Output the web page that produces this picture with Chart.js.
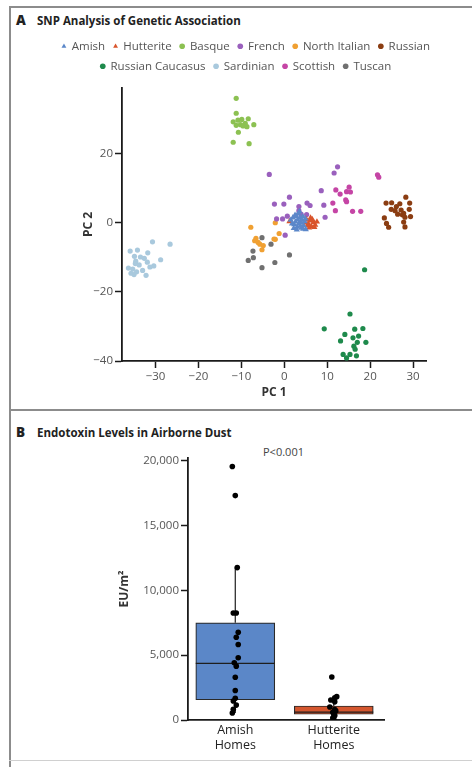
<!DOCTYPE html>
<html>
<head>
<meta charset="utf-8">
<script src="https://cdn.jsdelivr.net/npm/chart.js@4"></script>
<style>
  body { margin: 0; width: 472px; height: 767px; position: relative; overflow: hidden; background: #fff;
         font-family: 'Open Sans', sans-serif; color: #222; }
  .line { position: absolute; background: #8c8c8c; }
  .head { position: absolute; font-weight: bold; font-size: 11.5px; white-space: nowrap; }
  .head b { font-size: 13.5px; display: inline-block; width: 21px; }
  canvas { position: absolute; }
  .note { position: absolute; font-size: 11px; color: #444; }
</style>
</head>
<body>
<div class="line" style="left:9px;top:6px;width:2px;height:761px"></div>
<div class="line" style="left:9px;top:6px;width:463px;height:1.5px"></div>
<div class="line" style="left:9px;top:409px;width:463px;height:1.5px"></div>
<div class="line" style="left:9px;top:760px;width:463px;height:1px;background:#d0d0d0"></div>

<div class="head" style="left:16px;top:11px"><b>A</b>SNP Analysis of Genetic Association</div>
<div class="head" style="left:16px;top:423px"><b>B</b>Endotoxin Levels in Airborne Dust</div>
<div class="note" style="left:263px;top:444px">P&lt;0.001</div>

<canvas id="pca" width="452" height="373" style="left:20px;top:32px"></canvas>
<canvas id="dust" width="452" height="320" style="left:20px;top:440px"></canvas>

<script>
// Панель A: PC 1 / PC 2 для кожної популяції
const populations = ['Amish', 'Hutterite', 'Basque', 'French', 'North Italian', 'Russian',
                     'Russian Caucasus', 'Sardinian', 'Scottish', 'Tuscan'];
const popColors = ['#5b87c9', '#d9552c', '#8cc152', '#9a60bd', '#f0a032', '#8b3d12',
                   '#1e8a4c', '#a9c9dd', '#c545a5', '#707070'];
const popShapes = ['triangle', 'triangle', 'circle', 'circle', 'circle', 'circle',
                   'circle', 'circle', 'circle', 'circle'];

const amishPC = [[1.5,0.8],[2.0,1.5],[2.3,-0.5],[2.6,0.3],[2.8,1.9],[3.0,-1.2],[3.1,0.9],[3.3,2.6],
  [3.4,-0.2],[3.6,1.4],[3.8,0.2],[4.0,-1.5],[4.1,0.8],[4.3,1.8],[4.5,-0.8],[4.7,0.4],[5.0,-1.9],
  [2.2,-1.6],[1.8,-0.3],[3.5,3.3],[2.9,-2.0],[4.9,1.2],[3.7,-0.9],[2.5,2.2],[4.4,-1.8]];
const hutteritePC = [[1.2,0.4],[5.2,0.9],[5.6,-0.3],[6.0,0.6],[6.3,-1.0],[6.8,0.2],[7.2,-0.6],
  [5.8,-1.4],[6.5,1.0],[7.6,0.3],[4.8,0.0],[5.4,-0.8],[7.0,-1.3],[6.1,1.4]];
const basquePC = [[-11.2,36.0],[-11.2,31.7],[-11.9,29.2],[-10.8,29.7],[-9.9,29.9],[-8.4,30.1],
  [-9.1,28.8],[-10.2,28.4],[-11.2,28.2],[-7.1,28.4],[-9.6,28.0],[-8.7,27.8],[-10.7,26.2],
  [-11.9,23.3],[-8.2,22.9]];
const frenchPC = [[-3.5,14.0],[-2.3,5.4],[-0.1,5.4],[1.2,7.4],[3.4,4.7],[3.4,3.5],[5.3,5.7],
  [6.0,5.0],[-1.8,1.1],[-0.4,1.1],[0.7,1.9],[5.2,2.4],[0.2,-3.6],[8.6,9.3],[9.2,5.1],[9.5,1.6],
  [11.6,14.4],[12.4,16.2],[3.9,2.5]];
const northItalianPC = [[-7.8,-1.3],[-6.6,-4.5],[-6.9,-5.2],[-6.1,-5.7],[-5.7,-6.2],[-4.9,-6.6],
  [-5.2,-7.8],[-2.1,0.0],[-1.2,-3.1],[-2.4,-4.7],[-2.1,-4.8]];
const russianPC = [[23.7,5.7],[25.0,5.8],[28.3,7.4],[29.2,5.7],[26.1,4.7],[26.9,5.5],[24.9,3.9],
  [25.8,3.5],[27.2,3.7],[29.1,3.9],[26.4,2.5],[27.5,2.3],[28.1,1.6],[29.4,1.8],[23.3,1.4],
  [23.8,-0.2],[24.3,-1.3],[27.8,0.2],[28.1,-1.2],[27.8,2.7]];
const caucasusPC = [[15.3,-26.4],[9.3,-30.7],[16.4,-30.8],[18.3,-30.6],[14.1,-32.3],[16.0,-33.3],
  [17.3,-32.8],[13.1,-34.2],[17.0,-34.6],[19.0,-34.6],[16.2,-35.7],[16.5,-36.6],[13.7,-38.1],
  [14.5,-39.1],[15.3,-38.1],[16.8,-38.5],[18.7,-13.6]];
const sardinianPC = [[-30.7,-5.5],[-26.6,-6.2],[-35.9,-8.2],[-34.2,-7.9],[-31.8,-8.7],[-34.9,-9.7],
  [-33.5,-9.9],[-32.6,-10.3],[-28.8,-10.7],[-34.6,-11.1],[-31.9,-11.4],[-34.7,-11.8],[-33.8,-12.2],
  [-30.4,-12.5],[-31.3,-12.8],[-36.3,-13.1],[-35.3,-13.4],[-33.0,-13.8],[-34.4,-14.2],[-35.7,-14.6],
  [-32.2,-15.2],[-35.0,-15.0]];
const scottishPC = [[21.7,13.9],[22.0,13.2],[12.0,9.5],[13.0,8.3],[14.5,9.0],[15.1,10.3],[15.4,8.9],
  [14.3,6.6],[14.5,6.1],[11.3,5.7],[11.9,3.5],[15.9,3.3],[17.8,3.3]];
const tuscanPC = [[-5.2,-4.3],[-7.3,-8.2],[-7.2,-10.1],[-8.4,-10.9],[-5.2,-13.0],[-3.1,-6.2],
  [-2.2,-11.5],[1.2,-9.3]];

const popData = [amishPC, hutteritePC, basquePC, frenchPC, northItalianPC, russianPC,
                 caucasusPC, sardinianPC, scottishPC, tuscanPC];
const pcXTicks = [-30, -20, -10, 0, 10, 20, 30];
const pcYTicks = [-40, -20, 0, 20];

// Панель B: ендотоксин
const homeLabels = [['Amish', 'Homes'], ['Hutterite', 'Homes']];
const homePos = [1, 2];
const boxQ1 = [1560, 440];
const boxQ3 = [7490, 1080];
const boxMedian = [4360, 600];
const whiskerLow = [540, 60];
const whiskerHigh = [11750, 1800];
const boxColors = ['#5b87c8', '#d4562e'];
const amishDust = [19540, 17300, 11750, 8250, 8250, 6770, 6380, 5820, 4800, 4410, 4150, 3300,
                   2280, 1670, 1460, 1150, 820, 540];
const amishJitter = [-0.03, 0, 0.02, -0.02, 0.01, 0.03, 0.01, 0.03, 0.03, -0.01, 0.01, 0, 0, 0,
                     -0.02, 0.01, -0.02, -0.03];
const hutteriteDust = [3310, 1800, 1720, 1540, 1400, 1000, 800, 700, 600, 480, 350, 250, 150, 60];
const hutteriteJitter = [-0.02, 0.03, 0.01, -0.03, 0.01, -0.04, 0.01, 0.02, -0.01, 0, 0.01, 0, -0.01, 0];
const dustTicks = [0, 5000, 10000, 15000, 20000];

Chart.defaults.font.family = "'Open Sans', sans-serif";
Chart.defaults.animation = false;

const minus = v => (v < 0 ? '\u2212' + Math.abs(v) : String(v));

// відступ між легендою та графіком
const legendGap = {
  id: 'legendGap',
  beforeInit(chart) {
    const fit = chart.legend.fit;
    chart.legend.fit = function () { fit.call(this); this.height += 6; };
  }
};

const axisBorder = { color: '#1a1a1a', width: 1.8 };
const axisGrid = { drawOnChartArea: false, tickLength: 7, color: '#1a1a1a', tickWidth: 1.5 };
const tickFont = { size: 11.5 };
const axisTitleFont = { size: 12, weight: 'bold' };

new Chart(document.getElementById('pca'), {
  type: 'scatter',
  data: {
    datasets: populations.map((name, i) => ({
      label: name,
      data: popData[i].map(p => ({ x: p[0], y: p[1] })),
      backgroundColor: popColors[i],
      borderColor: popColors[i],
      borderWidth: 0,
      pointStyle: popShapes[i],
      pointRadius: popShapes[i] === 'triangle' ? 3.6 : 2.6
    }))
  },
  options: {
    responsive: false,
    plugins: {
      legend: {
        position: 'top',
        labels: { usePointStyle: true, boxWidth: 4, boxHeight: 4, padding: 8.5,
                  color: '#555', font: { size: 11.5 } }
      },
      tooltip: { enabled: false }
    },
    scales: {
      x: {
        type: 'linear', min: -37.8, max: 33,
        afterBuildTicks: s => { s.ticks = pcXTicks.map(v => ({ value: v })); },
        afterFit: s => { s.height = 44; },
        border: axisBorder,
        grid: axisGrid,
        ticks: { color: '#555', font: tickFont, padding: 2, callback: minus },
        title: { display: true, text: 'PC 1', color: '#333', font: axisTitleFont,
                 padding: { top: 0, bottom: 5 } }
      },
      y: {
        min: -40, max: 39,
        afterBuildTicks: s => { s.ticks = pcYTicks.map(v => ({ value: v })); },
        afterFit: s => { s.width = 102; },
        border: axisBorder,
        grid: axisGrid,
        ticks: { color: '#555', font: tickFont, padding: 2, callback: minus },
        title: { display: true, text: 'PC 2', color: '#333', font: axisTitleFont,
                 padding: { top: 61, bottom: 0 } }
      },
      yRight: {
        position: 'right',
        afterFit: s => { s.width = 46; },
        border: { display: false },
        grid: { display: false, drawTicks: false },
        ticks: { display: false }
      }
    }
  },
  plugins: [legendGap]
});

// медіана та вуса поверх прямокутників, під точками
const boxExtras = {
  id: 'boxExtras',
  afterDatasetDraw(chart, args) {
    if (args.meta.type !== 'bar') return;
    const { ctx, scales: { y } } = chart;
    ctx.save();
    ctx.strokeStyle = '#1e1e1e';
    ctx.lineWidth = 1.2;
    args.meta.data.forEach((bar, i) => {
      const l = bar.x - bar.width / 2, r = bar.x + bar.width / 2;
      const ym = y.getPixelForValue(boxMedian[i]);
      ctx.beginPath();
      ctx.moveTo(l, ym); ctx.lineTo(r, ym);
      ctx.moveTo(bar.x, y.getPixelForValue(boxQ3[i])); ctx.lineTo(bar.x, y.getPixelForValue(whiskerHigh[i]));
      ctx.moveTo(bar.x, y.getPixelForValue(boxQ1[i])); ctx.lineTo(bar.x, y.getPixelForValue(whiskerLow[i]));
      ctx.stroke();
    });
    ctx.restore();
  }
};

new Chart(document.getElementById('dust'), {
  type: 'scatter',
  data: {
    datasets: [
      {
        label: 'Amish Homes',
        data: amishDust.map((v, i) => ({ x: homePos[0] + amishJitter[i], y: v })),
        backgroundColor: '#000', borderWidth: 0, pointRadius: 2.8
      },
      {
        label: 'Hutterite Homes',
        data: hutteriteDust.map((v, i) => ({ x: homePos[1] + hutteriteJitter[i], y: v })),
        backgroundColor: '#000', borderWidth: 0, pointRadius: 2.8
      },
      {
        type: 'bar',
        label: 'IQR',
        data: homePos.map((p, i) => ({ x: p, y: [boxQ1[i], boxQ3[i]] })),
        backgroundColor: boxColors,
        borderColor: '#2a2a2a',
        borderWidth: 1.2,
        borderSkipped: false,
        barThickness: 79
      }
    ]
  },
  options: {
    responsive: false,
    layout: { padding: { top: 18, right: 88, bottom: 0, left: 0 } },
    plugins: { legend: { display: false }, tooltip: { enabled: false } },
    scales: {
      x: {
        type: 'linear', min: 0.52, max: 2.51, offset: false,
        afterBuildTicks: s => { s.ticks = homePos.map(v => ({ value: v })); },
        afterFit: s => { s.height = 40; },
        border: axisBorder,
        grid: { display: false, drawTicks: false, offset: false },
        ticks: { color: '#222', font: { size: 12.5 }, padding: 3,
                 callback: v => homeLabels[homePos.indexOf(v)] }
      },
      y: {
        type: 'linear', min: 0, max: 20200,
        afterBuildTicks: s => { s.ticks = dustTicks.map(v => ({ value: v })); },
        afterFit: s => { s.width = 168; },
        border: axisBorder,
        grid: axisGrid,
        ticks: { color: '#555', font: tickFont, padding: 2,
                 callback: v => v.toLocaleString('en-US') },
        title: { display: true, text: 'EU/m\u00b2', color: '#333', font: axisTitleFont,
                 padding: { top: 97, bottom: 0 } }
      }
    }
  },
  plugins: [boxExtras]
});
</script>
</body>
</html>
